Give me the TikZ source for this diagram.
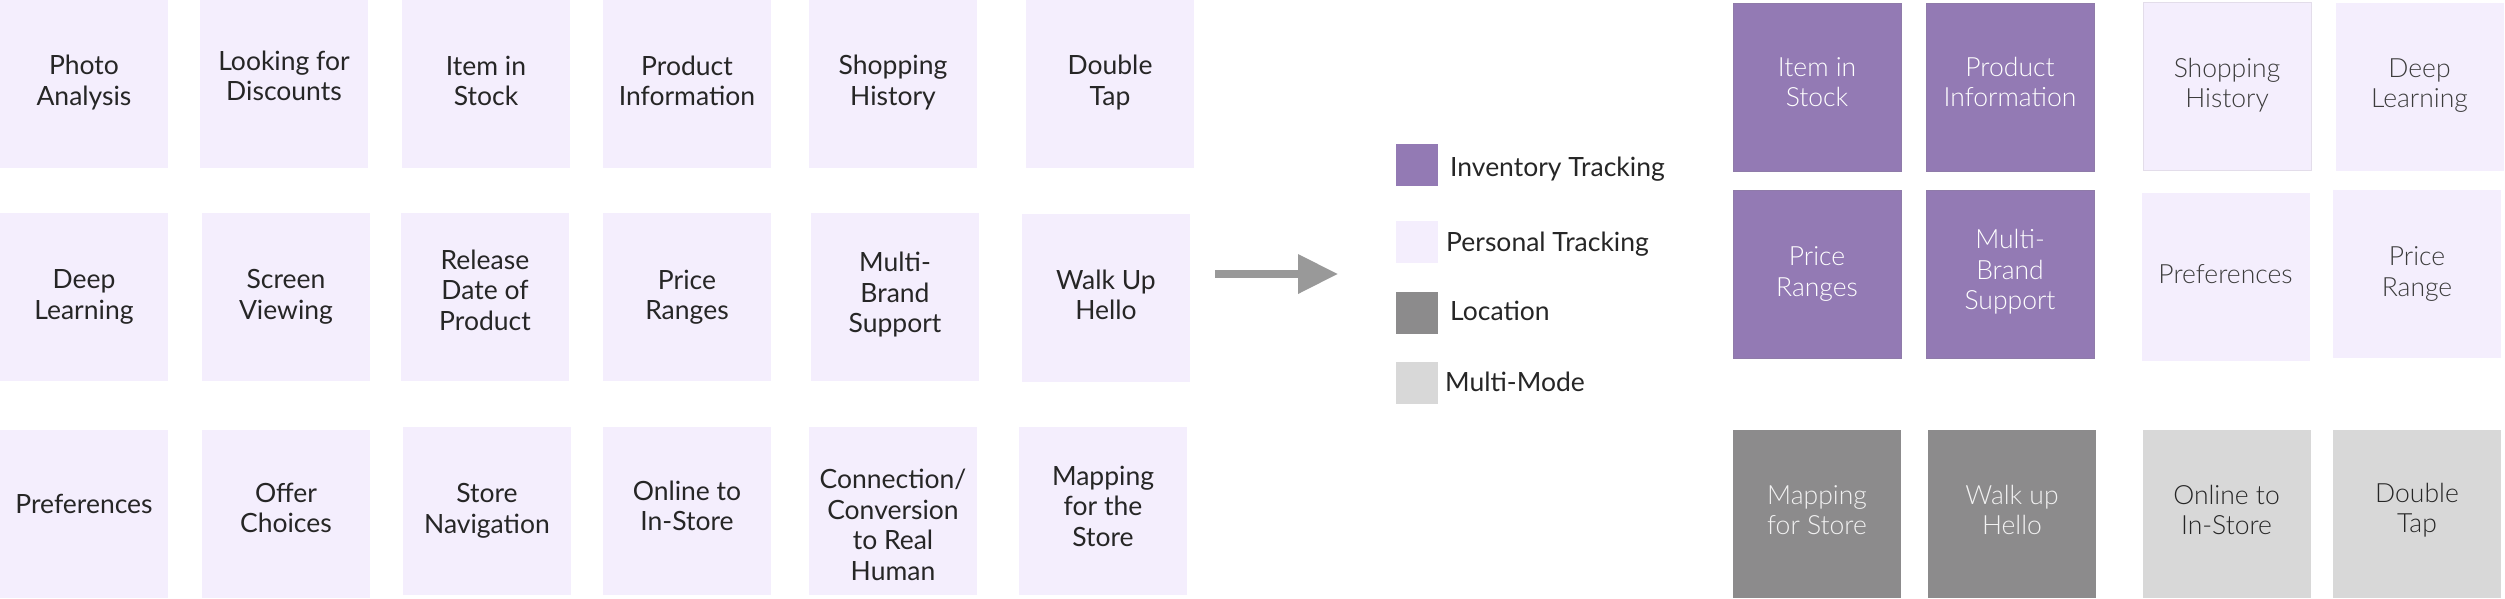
\documentclass[tikz,border=0pt]{standalone}
\usepackage{fontspec}
\setmainfont{Lato}
\newfontfamily\lightfont{Lato Light}
\usetikzlibrary{arrows.meta}
\definecolor{lav}{HTML}{F4EEFD}
\definecolor{purp}{HTML}{937AB4}
\definecolor{dgray}{HTML}{8C8B8C}
\definecolor{lgray}{HTML}{D8D8D8}
\definecolor{ink}{HTML}{262626}
\definecolor{softink}{HTML}{3C3C3C}
\definecolor{arrowgray}{HTML}{999999}
% \mycard{style}{name}{x}{y}{text shift up}{text}
\newcommand{\mycard}[6]{%
  \node[#1] (#2) at (#3,#4) {};
  \node[#1text, yshift=#5pt] (#2t) at (#2.center) {#6};}
\begin{document}
\begin{tikzpicture}[x=1pt,y=-1pt,
  box/.style={minimum width=168pt, minimum height=168pt, inner sep=0pt},
  lbl/.style={inner sep=0pt, align=center, font=\fontsize{26.5}{30.5}\selectfont, text=ink},
  rlbl/.style={lbl, font=\lightfont\fontsize{26.5}{30.5}\selectfont},
  card/.style={box, fill=lav},
  cardtext/.style={lbl},
  inv/.style={box, fill=purp, draw=purp!80!gray, line width=1pt},
  invtext/.style={rlbl, text=white},
  pers/.style={box, fill=lav},
  perstext/.style={rlbl, text=softink},
  persb/.style={pers, draw=lav!85!gray, line width=1pt},
  persbtext/.style={perstext},
  loc/.style={box, fill=dgray},
  loctext/.style={rlbl, text=white!95!black},
  multi/.style={box, fill=lgray},
  multitext/.style={rlbl, text=ink},
  swatch/.style={minimum width=42pt, minimum height=42pt, inner sep=0pt},
  keytext/.style={anchor=base west, inner sep=0pt, font=\fontsize{26.5}{30.5}\selectfont, text=ink}]
\useasboundingbox (0,0) rectangle (2505,598);
% left grid, row 1
\mycard{card}{a11}{84}{84}{1.5}{Photo\\Analysis}
\mycard{card}{a12}{284}{84}{8}{Looking for\\Discounts}
\mycard{card}{a13}{486}{84}{3}{Item in\\Stock}
\mycard{card}{a14}{687}{84}{3}{Product\\Information}
\mycard{card}{a15}{893}{84}{1.5}{Shopping\\History}
\mycard{card}{a16}{1110}{84}{1.5}{Double\\Tap}
% row 2
\mycard{card}{a21}{84}{297}{0}{Deep\\Learning}
\mycard{card}{a22}{286}{297}{0}{Screen\\Viewing}
\mycard{card}{a23}{485}{297}{7}{Release\\Date of\\Product}
\mycard{card}{a24}{687}{297}{0}{Price\\Ranges}
\mycard{card}{a25}{895}{297}{2}{Multi-\\Brand\\Support}
\mycard{card}{a26}{1106}{298}{3}{Walk Up\\Hello}
% row 3
\mycard{card}{a31}{84}{513.5}{10}{Preferences}
\mycard{card}{a32}{286}{513.5}{5.5}{Offer\\Choices}
\mycard{card}{a33}{487}{511}{0}{Store\\Navigation}
\mycard{card}{a34}{687}{511}{5}{Online to\\In-Store}
\mycard{card}{a35}{893}{511}{-14}{Connection/\\Conversion\\to Real\\Human}
\mycard{card}{a36}{1103}{511}{5}{Mapping\\for the\\Store}
% arrow
\coordinate (as) at (1215,274);
\coordinate (ae) at (1337.5,274);
\draw[line width=8pt, arrowgray, -{Triangle[length=39.5pt,width=40pt,line width=0pt]}] (as) -- (ae);
% legend
\node[swatch, fill=purp] (k1) at (1417,165) {};
\node[swatch, fill=lav] (k2) at (1417,242) {};
\node[swatch, fill=dgray] (k3) at (1417,313) {};
\node[swatch, fill=lgray] (k4) at (1417,383) {};
\node[keytext] (t1) at (1450,176) {Inventory Tracking};
\node[keytext] (t2) at (1446,251.5) {Personal Tracking};
\node[keytext] (t3) at (1450,320.5) {Location};
\node[keytext] (t4) at (1445,391) {Multi-Mode};
% right grid
\mycard{inv}{b11}{1817}{87}{5}{Item in\\Stock}
\mycard{inv}{b12}{2010}{87}{5}{Product\\Information}
\mycard{persb}{b13}{2227}{86.5}{1.5}{Shopping\\History}
\mycard{pers}{b14}{2419.5}{87}{1.5}{Deep\\Learning}
\mycard{inv}{b21}{1817}{274}{0}{Price\\Ranges}
\mycard{inv}{b22}{2010}{274}{2}{Multi-\\Brand\\Support}
\mycard{pers}{b23}{2225.5}{277}{3}{Preferences}
\mycard{pers}{b24}{2417}{274}{0}{Price\\Range}
\mycard{loc}{b31}{1817}{513.5}{3.5}{Mapping\\for Store}
\mycard{loc}{b32}{2012}{513.5}{3.5}{Walk up\\Hello}
\mycard{multi}{b33}{2226.5}{513.5}{3.5}{Online to\\In-Store}
\mycard{multi}{b34}{2417}{513.5}{3.5}{Double\\Tap}
\end{tikzpicture}
\end{document}
